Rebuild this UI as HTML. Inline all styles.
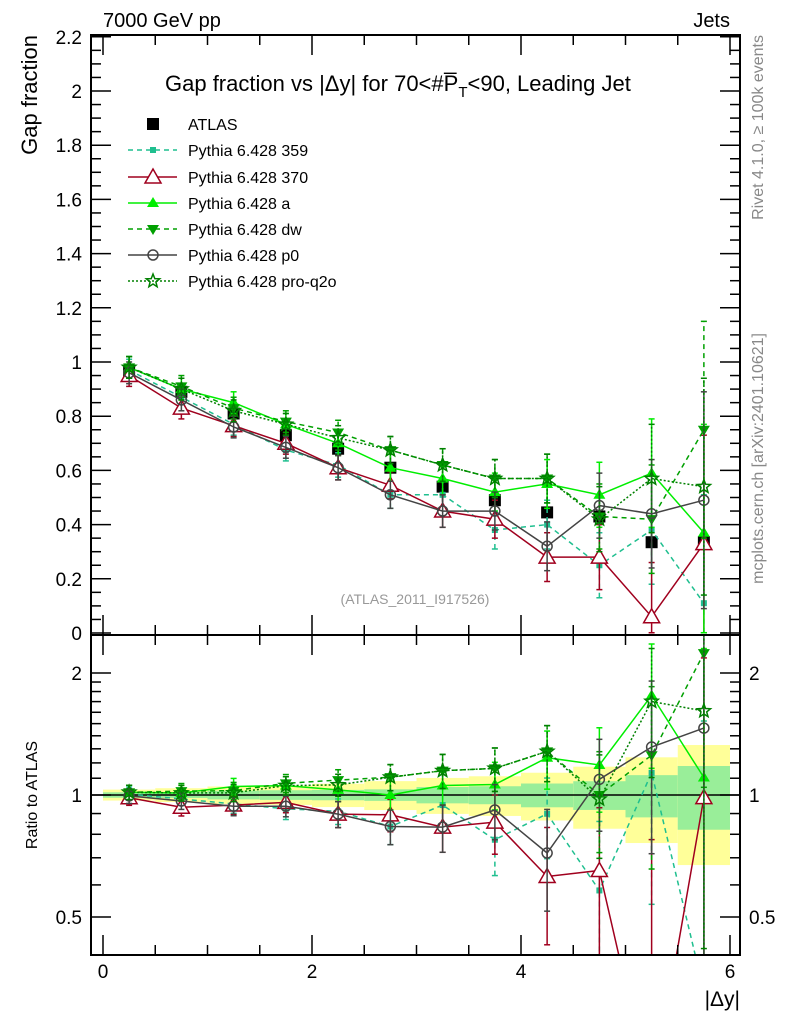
<!DOCTYPE html>
<html><head><meta charset="utf-8"><style>
html,body{margin:0;padding:0;background:#fff;overflow:hidden;width:786px;height:1024px}
svg{display:block;font-family:"Liberation Sans",sans-serif}
</style></head><body>
<svg id="c" width="786" height="1024" viewBox="0 0 786 1024" xmlns="http://www.w3.org/2000/svg"></svg>
<script>
const xCenters=[0.25,0.75,1.25,1.75,2.25,2.75,3.25,3.75,4.25,4.75,5.25,5.75];
const atlasVals=[0.965,0.89,0.81,0.73,0.68,0.61,0.54,0.49,0.445,0.43,0.335,0.335];
const atlasStat=[0.015,0.015,0.02,0.02,0.02,0.02,0.025,0.025,0.03,0.035,0.04,0.06];
const atlasTot=[0.03,0.035,0.04,0.04,0.045,0.05,0.055,0.055,0.06,0.075,0.08,0.11];
const s359=[0.97,0.87,0.77,0.675,0.62,0.51,0.51,0.38,0.40,0.25,0.38,0.11];
const s370=[0.95,0.83,0.765,0.70,0.61,0.545,0.45,0.42,0.28,0.28,0.06,0.33];
const sA=[0.98,0.90,0.85,0.77,0.70,0.61,0.57,0.52,0.55,0.51,0.59,0.37];
const sDW=[0.98,0.91,0.83,0.78,0.74,0.675,0.62,0.57,0.57,0.43,0.42,0.75];
const sP0=[0.96,0.86,0.76,0.685,0.61,0.51,0.45,0.45,0.32,0.47,0.44,0.49];
const sQ2O=[0.98,0.90,0.82,0.77,0.72,0.675,0.62,0.57,0.57,0.42,0.57,0.54];
const mcErr=[0.04,0.04,0.04,0.04,0.045,0.05,0.06,0.07,0.09,0.12,0.2,0.4];
const mainTickLabels=["0","0.2","0.4","0.6","0.8","1","1.2","1.4","1.6","1.8","2","2.2"];
const xTickLabels=["0","2","4","6"];
const ratioTickLabels=["0.5","1","2"];

const NS="http://www.w3.org/2000/svg";
const svg=document.getElementById('c');
function el(t,a,p){const e=document.createElementNS(NS,t);for(const k in a)e.setAttribute(k,a[k]);(p||svg).appendChild(e);return e;}
const L=91,R=740,T=35,M=635,B=955;
const X=v=>103+v*104.5;
const Y=v=>633-v*271;
const YR=r=>795-Math.log2(r)*122;

const defs=el('defs',{});
const cp1=el('clipPath',{id:'cm'},defs);el('rect',{x:L,y:T,width:R-L,height:M-T},cp1);
const cp2=el('clipPath',{id:'cr'},defs);el('rect',{x:L,y:M,width:R-L,height:B-M},cp2);

const gBand=el('g',{'clip-path':'url(#cr)'});


xCenters.forEach((c,i)=>{
  const t=atlasTot[i]/atlasVals[i], s=atlasStat[i]/atlasVals[i];
  const r1=el('rect',{x:X(c-0.25),y:YR(1+t),width:X(0.5)-X(0),height:YR(1-t)-YR(1+t),fill:'#ffff99'},gBand);
  
  
  const r2=el('rect',{x:X(c-0.25),y:YR(1+s),width:X(0.5)-X(0),height:YR(1-s)-YR(1+s),fill:'#99ee99'},gBand);
  
  
});
el('line',{x1:L,x2:R,y1:YR(1),y2:YR(1),stroke:'#000','stroke-width':1.5});

const series=[
 {name:'Pythia 6.428 359',id:'pythia-359',vals:s359,color:'#1fbf8f',dash:'5,4',marker:'sq'},
 {name:'Pythia 6.428 370',id:'pythia-370',vals:s370,color:'#a0001e',dash:'',marker:'tri'},
 {name:'Pythia 6.428 a',id:'pythia-a',vals:sA,color:'#00ee00',dash:'',marker:'ftri'},
 {name:'Pythia 6.428 dw',id:'pythia-dw',vals:sDW,color:'#00a000',dash:'5,4',marker:'dtri'},
 {name:'Pythia 6.428 p0',id:'pythia-p0',vals:sP0,color:'#444444',dash:'',marker:'circ'},
 {name:'Pythia 6.428 pro-q2o',id:'pythia-pro-q2o',vals:sQ2O,color:'#008000',dash:'2,2',marker:'star'}
];
function marker(g,type,x,y,color){
  let e;
  if(type==='sq') e=el('rect',{x:x-3,y:y-3,width:6,height:6,fill:color},g);
  else if(type==='bsq') e=el('rect',{x:x-6,y:y-6,width:12,height:12,fill:'#000'},g);
  else if(type==='tri') e=el('polygon',{points:`${x},${y-8} ${x-8},${y+6} ${x+8},${y+6}`,fill:'#fff',stroke:color,'stroke-width':1.5},g);
  else if(type==='ftri') e=el('polygon',{points:`${x},${y-6} ${x-6},${y+4} ${x+6},${y+4}`,fill:color},g);
  else if(type==='dtri') e=el('polygon',{points:`${x},${y+6} ${x-6},${y-4} ${x+6},${y-4}`,fill:color},g);
  else if(type==='circ') e=el('circle',{cx:x,cy:y,r:5,fill:'none',stroke:color,'stroke-width':1.5},g);
  else if(type==='star'){let p=[];for(let k=0;k<10;k++){const r=k%2?3:7,a=-Math.PI/2+k*Math.PI/5;p.push((x+r*Math.cos(a)).toFixed(1)+','+(y+r*Math.sin(a)).toFixed(1));}
    e=el('polygon',{points:p.join(' '),fill:'none',stroke:color,'stroke-width':1.5},g);}
  
  
}
function drawSeries(s,ratio){
  const g=el('g',{'clip-path':ratio?'url(#cr)':'url(#cm)'});
  
  
  const yf=ratio?((v,i)=>YR(v/atlasVals[i])):((v,i)=>Y(v));
  xCenters.forEach((c,i)=>{
    const v=s.vals[i],e=mcErr[i];
    const y1=yf(Math.max(v-e,0.001),i),y2=yf(v+e,i);
    el('line',{x1:X(c),x2:X(c),y1:y1,y2:y2,stroke:s.color,'stroke-width':1.5,'stroke-dasharray':s.dash},g);
    el('line',{x1:X(c)-3,x2:X(c)+3,y1:y1,y2:y1,stroke:s.color,'stroke-width':1.5},g);
    el('line',{x1:X(c)-3,x2:X(c)+3,y1:y2,y2:y2,stroke:s.color,'stroke-width':1.5},g);
  });
  const pts=xCenters.map((c,i)=>X(c)+','+yf(s.vals[i],i).toFixed(1)).join(' ');
  el('polyline',{points:pts,fill:'none',stroke:s.color,'stroke-width':1.5,'stroke-dasharray':s.dash},g);
  xCenters.forEach((c,i)=>marker(g,s.marker,X(c),yf(s.vals[i],i),s.color));
}
const ga=el('g',{'clip-path':'url(#cm)'});


xCenters.forEach((c,i)=>{
  el('line',{x1:X(c),x2:X(c),y1:Y(atlasVals[i]-atlasTot[i]),y2:Y(atlasVals[i]+atlasTot[i]),stroke:'#000','stroke-width':1.5},ga);
  marker(ga,'bsq',X(c),Y(atlasVals[i]),'#000');
});
series.forEach(s=>drawSeries(s,false));
series.forEach(s=>drawSeries(s,true));

el('rect',{x:L,y:T,width:R-L,height:M-T,fill:'none',stroke:'#000','stroke-width':2});
el('rect',{x:L,y:M,width:R-L,height:B-M,fill:'none',stroke:'#000','stroke-width':2});

function txt(s,a,name){const t=el('text',a);t.textContent=s;return t;}
for(let k=0;k<=44;k++){const v=k*0.05,y=Y(v);if(y<T-1)continue;const maj=k%4===0;const w=maj?20:10;
  el('line',{x1:L,x2:L+w,y1:y,y2:y,stroke:'#000','stroke-width':1.5});el('line',{x1:R-w,x2:R,y1:y,y2:y,stroke:'#000','stroke-width':1.5});}
mainTickLabels.forEach((s,i)=>txt(s,{x:82,y:Y(i*0.2)+7,'text-anchor':'end','font-size':19},'y-tick-label'));
for(let k=0;k<=12;k++){const v=k*0.5,x=X(v);const maj=k%4===0;const h=maj?20:10;
  [[T,T+h],[M,M-h],[M,M+h],[B,B-h]].forEach(p=>el('line',{x1:x,x2:x,y1:p[0],y2:p[1],stroke:'#000','stroke-width':1.5}));}
xTickLabels.forEach((s,i)=>txt(s,{x:X(i*2),y:978,'text-anchor':'middle','font-size':19},'x-tick-label'));
[0.4,0.5,0.6,0.7,0.8,0.9,1,1.1,1.2,1.3,1.4,1.5,1.6,1.7,1.8,1.9,2].forEach(v=>{const y=YR(v);if(y>B||y<M)return;const maj=(v===0.5||v===1||v===2);const w=maj?20:10;
  el('line',{x1:L,x2:L+w,y1:y,y2:y,stroke:'#000','stroke-width':1.5});el('line',{x1:R-w,x2:R,y1:y,y2:y,stroke:'#000','stroke-width':1.5});});
ratioTickLabels.forEach(s=>{const y=YR(parseFloat(s))+7;txt(s,{x:82,y:y,'text-anchor':'end','font-size':19},'ratio-tick-label-left');txt(s,{x:749,y:y,'font-size':19},'ratio-tick-label-right');});

txt('7000 GeV pp',{x:103,y:27,'font-size':20},'energy-label');
txt('Jets',{x:730,y:27,'text-anchor':'end','font-size':20},'process-label');
const title=el('text',{x:165,y:91,'font-size':22});


const t1=el('tspan',{},title);t1.textContent='Gap fraction vs |Δy| for 70<#P̅';
const t2=el('tspan',{dy:6,'font-size':15},title);t2.textContent='T';
const t3=el('tspan',{dy:-6},title);t3.textContent='<90, Leading Jet';
txt('Gap fraction',{x:0,y:0,'font-size':22,'text-anchor':'end',transform:'translate(37,35) rotate(-90)'},'y-axis-title');
txt('Ratio to ATLAS',{x:0,y:0,'font-size':16,'text-anchor':'middle',transform:'translate(37,795) rotate(-90)'},'ratio-axis-title');
txt('|Δy|',{x:740,y:1006,'text-anchor':'end','font-size':21},'x-axis-title');
txt('(ATLAS_2011_I917526)',{x:415,y:604,'text-anchor':'middle','font-size':14,fill:'#999'},'analysis-id');
txt('Rivet 4.1.0, ≥ 100k events',{x:0,y:0,'font-size':16,fill:'#888','text-anchor':'end',transform:'translate(763,35) rotate(-90)'},'rivet-label');
txt('mcplots.cern.ch [arXiv:2401.10621]',{x:0,y:0,'font-size':16,fill:'#888','text-anchor':'end',transform:'translate(763,333) rotate(-90)'},'mcplots-label');

const lg=el('g',{});


const rows=[124,150,177,203,229,255,281];
marker(lg,'bsq',153,rows[0],'#000');
txt('ATLAS',{x:188,y:rows[0]+6,'font-size':16},'legend-entry');
series.forEach((s,i)=>{const y=rows[i+1];
  el('line',{x1:128,x2:177,y1:y,y2:y,stroke:s.color,'stroke-width':1.5,'stroke-dasharray':s.dash},lg);
  marker(lg,s.marker,153,y,s.color);
  txt(s.name,{x:188,y:y+6,'font-size':16},'legend-entry');});
</script>
</body></html>
